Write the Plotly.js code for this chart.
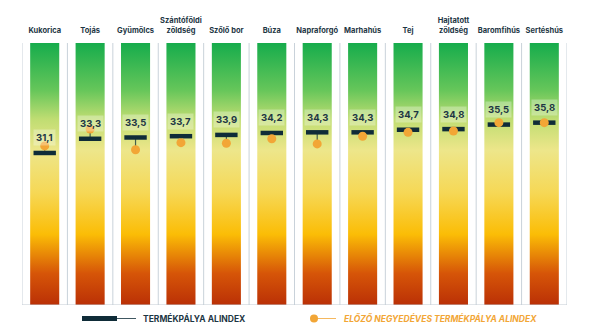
<!DOCTYPE html>
<html>
<head>
<meta charset="utf-8">
<script src="https://cdn.plot.ly/plotly-3.0.1.min.js"></script>
<style>html,body{margin:0;padding:0;background:#fff}#chart{width:605px;height:330px}</style>
</head>
<body>
<div id="chart"></div>
<script>
var categories = ["Kukorica","Tojás","Gyümölcs","Szántóföldi<br>zöldség","Szőlő bor","Búza","Napraforgó","Marhahús","Tej","Hajtatott<br>zöldség","Baromfihús","Sertéshús"];
var current = [31.1,33.3,33.5,33.7,33.9,34.2,34.3,34.3,34.7,34.8,35.5,35.8];
var previous = [32.2,34.8,31.6,32.7,32.6,33.3,32.5,33.7,34.3,34.5,35.8,35.8];
var currentLabels = ["31,1","33,3","33,5","33,7","33,9","34,2","34,3","34,3","34,7","34,8","35,5","35,8"];
var legendNames = ["TERMÉKPÁLYA ALINDEX","ELŐZŐ NEGYEDÉVES TERMÉKPÁLYA ALINDEX"];

var yMin = 7.53, yMax = 48.15;
var half = 0.32;
var navy = "#0f2c38";
var orange = "#f2a636";
var textDark = "#1d3644";
var font = "Inter, 'Noto Sans', sans-serif";

var idx = categories.map(function(_, i){ return i; });
var gradient = [
  [0, "#ba3006"], [0.12, "#d65508"], [0.27, "#fbbd06"], [0.43, "#f6d856"],
  [0.59, "#ede68a"], [0.71, "#bfdd72"], [0.82, "#66c65a"], [1, "#16ac4c"]
];

var traces = [];
idx.forEach(function(i){
  traces.push({
    type: "scatter", mode: "none", hoverinfo: "skip", showlegend: false,
    x: [i-half, i+half, i+half, i-half, i-half],
    y: [yMin, yMin, yMax, yMax, yMin],
    fill: "toself",
    fillgradient: {type: "vertical", start: yMin, stop: yMax, colorscale: gradient}
  });
});

// connectors
var cx = [], cy = [];
idx.forEach(function(i){ cx.push(i, i, null); cy.push(current[i], previous[i], null); });
traces.push({type:"scatter", mode:"lines", x:cx, y:cy, line:{color:"#44604c", width:1.2}, hoverinfo:"skip", showlegend:false});

traces.push({
  type: "scatter", mode: "markers", x: idx, y: current, name: legendNames[0], showlegend:false,
  marker: {symbol: "line-ew", size: 16, line: {color: navy, width: 4.5}, color: navy}
});
traces.push({
  type: "scatter", mode: "markers", x: idx, y: previous, name: legendNames[1], showlegend:false,
  marker: {symbol: "circle", size: 9, color: orange, line: {width: 0}}
});

var shapes = [];
for (var k = 0; k <= categories.length; k++) {
  shapes.push({type:"line", xref:"x", yref:"y", x0:k-0.5, x1:k-0.5, y0:yMin, y1:yMax, line:{color:"#c9d2da", width:1}, layer:"below"});
}
shapes.push({type:"line", xref:"x", yref:"y", x0:-0.5, x1:categories.length-0.5, y0:yMin, y1:yMin, line:{color:"#c3ccd4", width:1.2}});
// legend symbols
shapes.push({type:"rect", xref:"paper", yref:"paper", x0:(82-22)/545, x1:(117-22)/545, y0:-(316-305)/262, y1:-(321-305)/262, fillcolor:navy, line:{width:0}});
shapes.push({type:"line", xref:"paper", yref:"paper", x0:(117-22)/545, x1:(136-22)/545, y0:-(318.5-305)/262, y1:-(318.5-305)/262, line:{color:navy, width:0.8}});
shapes.push({type:"line", xref:"paper", yref:"paper", x0:(316-22)/545, x1:(336-22)/545, y0:-(318.5-305)/262, y1:-(318.5-305)/262, line:{color:orange, width:0.8}});
shapes.push({type:"circle", xref:"paper", yref:"paper", x0:(310-22)/545, x1:(318-22)/545, y0:-(314.5-305)/262, y1:-(322.5-305)/262, fillcolor:orange, line:{width:0}});

var annotations = idx.map(function(i){
  return {x:i, y:current[i], xref:"x", yref:"y", text:"<b>"+currentLabels[i]+"</b>", showarrow:false,
    yshift:15, font:{family:font, size:9.5, color:textDark}, bgcolor:"rgba(255,255,255,0.3)", borderpad:2};
});
annotations.push({xref:"paper", yref:"paper", x:(141-22)/545, y:-(318.5-305)/262, xanchor:"left", yanchor:"middle",
  text:"<b>"+legendNames[0]+"</b>", showarrow:false, font:{family:font, size:8.5, color:textDark}});
annotations.push({xref:"paper", yref:"paper", x:(342-22)/545, y:-(318.5-305)/262, xanchor:"left", yanchor:"middle",
  text:"<b><i>"+legendNames[1]+"</i></b>", showarrow:false, font:{family:font, size:8.5, color:orange}});

var layout = {
  width: 605, height: 330,
  margin: {l:22, r:38, t:43, b:25, pad:0},
  paper_bgcolor: "#ffffff", plot_bgcolor: "#ffffff",
  showlegend: false,
  xaxis: {range:[-0.5, categories.length-0.5], side:"top", tickvals:idx, tickangle:0,
    ticktext: categories.map(function(c){ return "<b>"+c+"</b>"; }),
    showgrid:false, zeroline:false, showline:false, ticks:"", ticklabelstandoff:8,
    tickfont:{family:font, size:7.5, color:textDark}, fixedrange:true},
  yaxis: {range:[yMin, yMax], showgrid:false, zeroline:false, showline:false, showticklabels:false, ticks:"", fixedrange:true},
  shapes: shapes,
  annotations: annotations
};

Plotly.newPlot("chart", traces, layout, {displayModeBar:false, staticPlot:true});
</script>
</body>
</html>
